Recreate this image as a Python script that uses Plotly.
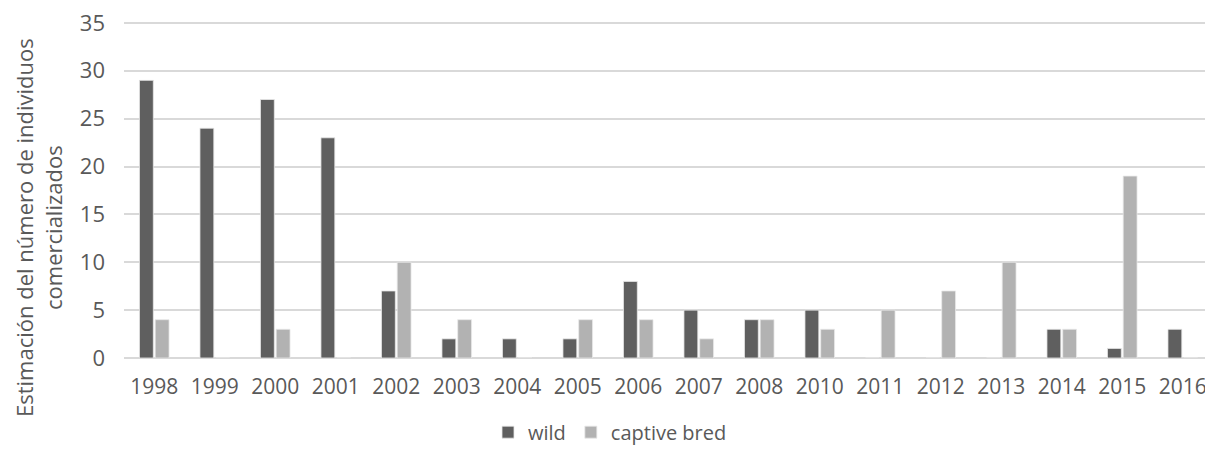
import plotly.graph_objects as go

years = ["1998", "1999", "2000", "2001", "2002", "2003", "2004", "2005", "2006",
         "2007", "2008", "2010", "2011", "2012", "2013", "2014", "2015", "2016"]
wild = [29, 24, 27, 23, 7, 2, 2, 2, 8, 5, 4, 5, 0, 0, 0, 3, 1, 3]
captive_bred = [4, 0, 3, 0, 10, 4, 0, 4, 4, 2, 4, 3, 5, 7, 10, 3, 19, 0]
y_ticks = [0, 5, 10, 15, 20, 25, 30, 35]

FONT = "Open Sans"
TXT = "#595959"

fig = go.Figure()
fig.add_trace(go.Bar(x=years, y=wild, name="wild",
                     marker=dict(color="#5f5f5f", line=dict(color="#e8e8e8", width=0.8))))
fig.add_trace(go.Bar(x=years, y=captive_bred, name="captive bred",
                     marker=dict(color="#b2b2b2", line=dict(color="#e8e8e8", width=0.8))))

OFF = 8  # page body offset
W, H = 1213 - OFF, 452 - OFF
L, R, T, B = 124 - OFF, 0, 21 - OFF, 94
pw = W - L - R
ph = H - T - B
bottom = T + ph  # plot bottom in figure coords

fig.update_layout(
    width=W, height=H,
    margin=dict(l=L, r=R, t=T, b=B),
    plot_bgcolor="white", paper_bgcolor="white",
    barmode="group", bargap=0.48, bargroupgap=0.12,
    font=dict(family=FONT, size=21, color=TXT),
    showlegend=True,
    legend=dict(orientation="h", x=(610 - OFF - L) / pw, xanchor="center",
                y=(bottom - H) / ph + 0.001, yanchor="bottom",
                font=dict(family=FONT, size=20, color=TXT),
                itemwidth=30, traceorder="normal"),
)
fig.update_xaxes(type="category", showgrid=False, showline=False, zeroline=False,
                 ticks="", ticklabelstandoff=14, ticklabeloverflow="allow",
                 tickfont=dict(family=FONT, size=21, color=TXT))
fig.update_yaxes(range=[0, 35.2], tickvals=y_ticks, showgrid=True, gridcolor="#d9d9d9",
                 gridwidth=2, zeroline=True, zerolinecolor="#d9d9d9", zerolinewidth=2,
                 showline=False, ticks="", ticklabelstandoff=18, ticklabeloverflow="allow",
                 tickfont=dict(family=FONT, size=22, color=TXT))

fig.add_annotation(text="Estimación del número de individuos<br>comercializados",
                   xref="paper", yref="paper",
                   x=(38 - OFF - L) / pw, y=(bottom - (228 - OFF)) / ph,
                   xanchor="center", yanchor="middle", textangle=-90,
                   showarrow=False, font=dict(family=FONT, size=22, color=TXT))

fig.write_html("out.html")
